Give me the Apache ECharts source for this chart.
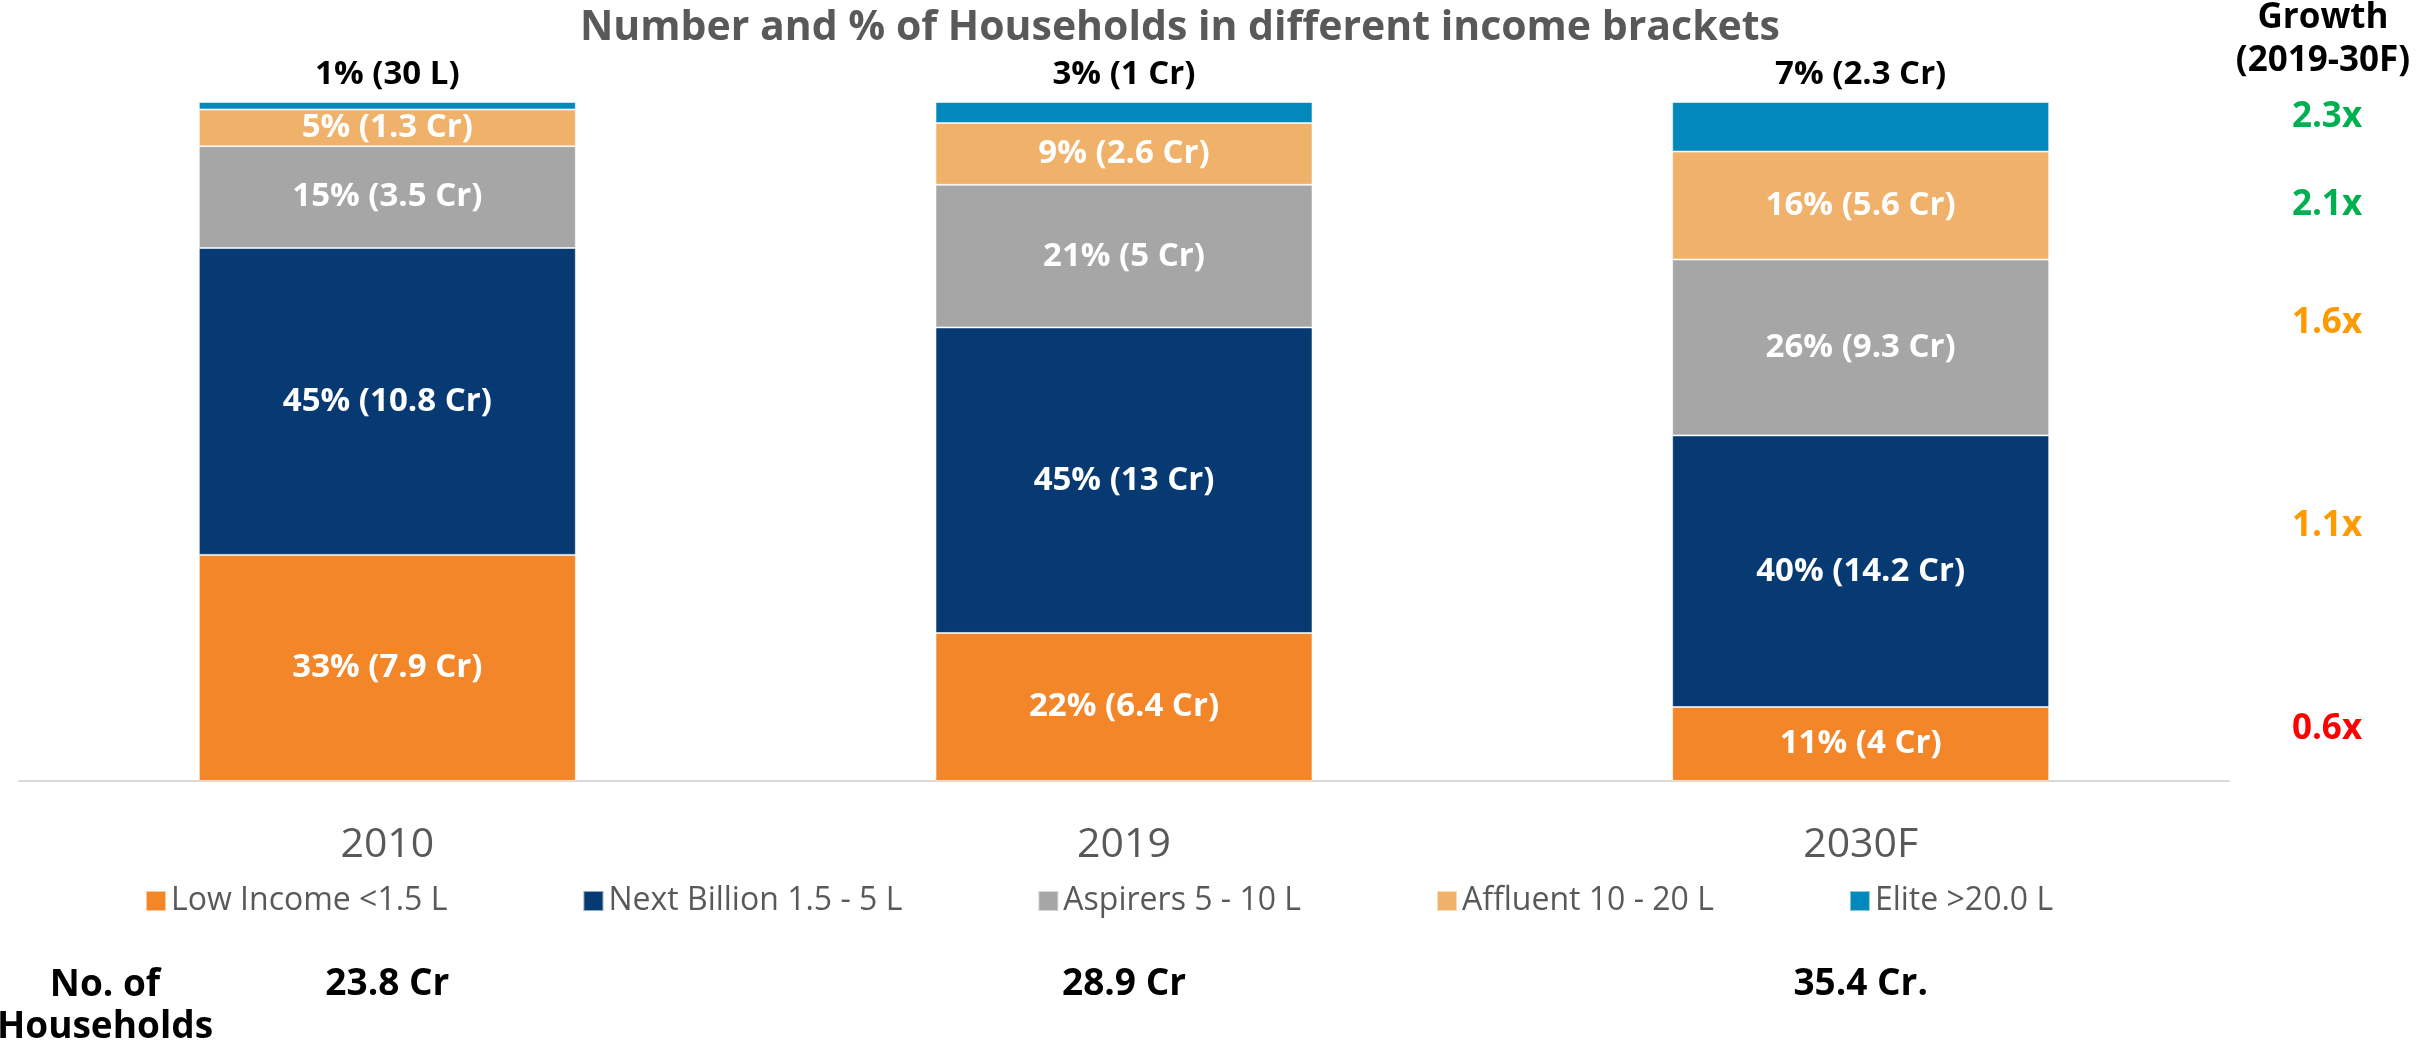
<!DOCTYPE html>
<html lang="en">
<head>
  <meta charset="utf-8">
  <title>Number and % of Households in different income brackets</title>
  <script src="https://cdn.jsdelivr.net/npm/echarts@6/dist/echarts.min.js"></script>
</head>
<body style="margin: 0;">
  <div id="container" style="width: 2420px; height: 1048px;"></div>
  <script type="text/javascript">
    var years = ['2010', '2019', '2030F'];
    var households = ['23.8 Cr', '28.9 Cr', '35.4 Cr.'];

    // share of households (%) per bracket
    var lowIncome = [33.3, 21.8, 10.9];
    var nextBillion = [45.2, 45.0, 40.0];
    var aspirers = [15.0, 21.0, 25.9];
    var affluent = [5.4, 9.1, 15.9];
    var elite = [1.1, 3.1, 7.3];

    var lowLabels = ['33% (7.9 Cr)', '22% (6.4 Cr)', '11% (4 Cr)'];
    var nextBillionLabels = ['45% (10.8 Cr)', '45% (13 Cr)', '40% (14.2 Cr)'];
    var aspirerLabels = ['15% (3.5 Cr)', '21% (5 Cr)', '26% (9.3 Cr)'];
    var affluentLabels = ['5% (1.3 Cr)', '9% (2.6 Cr)', '16% (5.6 Cr)'];
    var eliteLabels = ['1% (30 L)', '3% (1 Cr)', '7% (2.3 Cr)'];

    // growth 2019-30F, top (Elite) to bottom (Low Income)
    var growth = ['2.3x', '2.1x', '1.6x', '1.1x', '0.6x'];

    var FONT = '"Open Sans", "Noto Sans", sans-serif';

    var chart = echarts.init(document.getElementById('container'), null, { renderer: 'canvas' });

    function barSeries(name, values, labels, color, inside) {
      return {
        name: name,
        type: 'bar',
        stack: 'total',
        barWidth: 377,
        data: values,
        itemStyle: { color: color, borderColor: 'rgba(255,255,255,0.55)', borderWidth: 1 },
        label: {
          show: true,
          position: inside ? 'inside' : 'top',
          distance: 11,
          fontFamily: FONT,
          fontSize: 33,
          lineHeight: 33,
          fontWeight: 'bold',
          color: inside ? '#ffffff' : '#000000',
          formatter: function (p) { return labels[p.dataIndex]; }
        }
      };
    }

    var growthYs = [117, 205, 323, 526, 729];
    var growthColors = ['#00B050', '#00B050', '#FF9900', '#FF9900', '#FF0000'];
    var graphics = [
      {
        type: 'text', x: 2323, y: 40,
        style: {
          text: 'Growth\n(2019-30F)', font: 'bold 35px ' + FONT, lineHeight: 43,
          fill: '#000', align: 'center', verticalAlign: 'middle'
        }
      },
      {
        type: 'text', x: 105, y: 1006,
        style: {
          text: 'No. of\nHouseholds', font: 'bold 37px ' + FONT, lineHeight: 42,
          fill: '#000', align: 'center', verticalAlign: 'middle'
        }
      }
    ];
    growth.forEach(function (g, i) {
      graphics.push({
        type: 'text', x: 2327, y: growthYs[i],
        style: {
          text: g, font: 'bold 35px ' + FONT, fill: growthColors[i],
          align: 'center', verticalAlign: 'middle'
        }
      });
    });

    var option = {
      backgroundColor: '#ffffff',
      animation: false,
      title: {
        text: 'Number and % of Households in different income brackets',
        left: 1180,
        top: 7,
        padding: 0,
        textAlign: 'center',
        textStyle: { fontFamily: FONT, fontSize: 41, lineHeight: 42, fontWeight: 'bold', color: '#595959' }
      },
      legend: {
        left: 145,
        top: 885,
        padding: 0,
        icon: 'rect',
        itemWidth: 20,
        itemHeight: 20,
        itemGap: 135,
        textStyle: { fontFamily: FONT, fontSize: 32, lineHeight: 32, color: '#595959' }
      },
      grid: {
        left: 19,
        right: 191,
        top: 102,
        bottom: 267,
        outerBoundsMode: 'none'
      },
      xAxis: [
        {
          type: 'category',
          data: years,
          axisLine: { lineStyle: { color: '#D9D9D9', width: 2 } },
          axisTick: { show: false },
          axisLabel: { margin: 44, fontFamily: FONT, fontSize: 41, lineHeight: 41, color: '#595959' }
        },
        {
          type: 'category',
          data: households,
          position: 'bottom',
          axisLine: { show: false },
          axisTick: { show: false },
          axisLabel: { margin: 185, fontFamily: FONT, fontSize: 37, lineHeight: 37, fontWeight: 'bold', color: '#000' }
        }
      ],
      yAxis: { type: 'value', min: 0, max: 100, show: false, splitLine: { show: false } },
      graphic: graphics,
      series: [
        barSeries('Low Income <1.5 L', lowIncome, lowLabels, '#F4862A', true),
        barSeries('Next Billion 1.5 - 5 L', nextBillion, nextBillionLabels, '#073A72', true),
        barSeries('Aspirers 5 - 10 L', aspirers, aspirerLabels, '#A6A6A6', true),
        barSeries('Affluent 10 - 20 L', affluent, affluentLabels, '#F0B16B', true),
        barSeries('Elite >20.0 L', elite, eliteLabels, '#0288BA', false)
      ]
    };

    chart.setOption(option);
    window.addEventListener('resize', chart.resize);
  </script>
</body>
</html>
